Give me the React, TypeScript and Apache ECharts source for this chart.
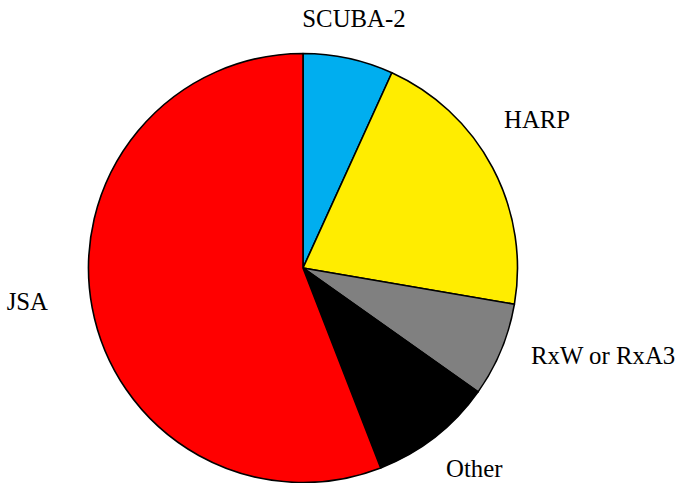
import React, { useEffect, useRef } from "react";
import * as echarts from "echarts";

const categories = ["SCUBA-2", "HARP", "RxW or RxA3", "Other", "JSA"];
const values = [6.8, 20.9, 7.1, 9.3, 55.9];
const colors = ["#00AEEF", "#FFED00", "#808080", "#000000", "#FF0000"];

// label anchor placements (text layout only)
const labelPos: { x: number; y: number; align: "left" | "right" | "center" }[] = [
  { x: 354, y: 18, align: "center" },
  { x: 504, y: 119, align: "left" },
  { x: 531, y: 355, align: "left" },
  { x: 446, y: 468, align: "left" },
  { x: 48, y: 301, align: "right" },
];

export default function App() {
  const ref = useRef<HTMLDivElement>(null);
  useEffect(() => {
    if (!ref.current) return;
    const chart = echarts.init(ref.current, undefined, { renderer: "svg" });
    chart.setOption({
      animation: false,
      backgroundColor: "#ffffff",
      series: [
        {
          type: "pie",
          center: [303, 268],
          radius: 214.5,
          startAngle: 90,
          clockwise: true,
          avoidLabelOverlap: false,
          itemStyle: { borderColor: "#000000", borderWidth: 1.6 },
          label: {
            show: true,
            position: "outside",
            formatter: "{b}",
            fontFamily: "'Liberation Serif', 'Times New Roman', Times, serif",
            fontSize: 24.8,
            color: "#000000",
          },
          labelLine: { show: false },
          labelLayout: (params: any) => {
            const p = labelPos[params.dataIndex];
            return { x: p.x, y: p.y, align: p.align, verticalAlign: "middle" };
          },
          emphasis: { disabled: true },
          data: categories.map((name, i) => ({
            name,
            value: values[i],
            itemStyle: { color: colors[i] },
          })),
        },
      ],
    });
    return () => chart.dispose();
  }, []);
  return (
    <div
      ref={ref}
      style={{ position: "fixed", left: 0, top: 0, width: 679, height: 483 }}
    />
  );
}
